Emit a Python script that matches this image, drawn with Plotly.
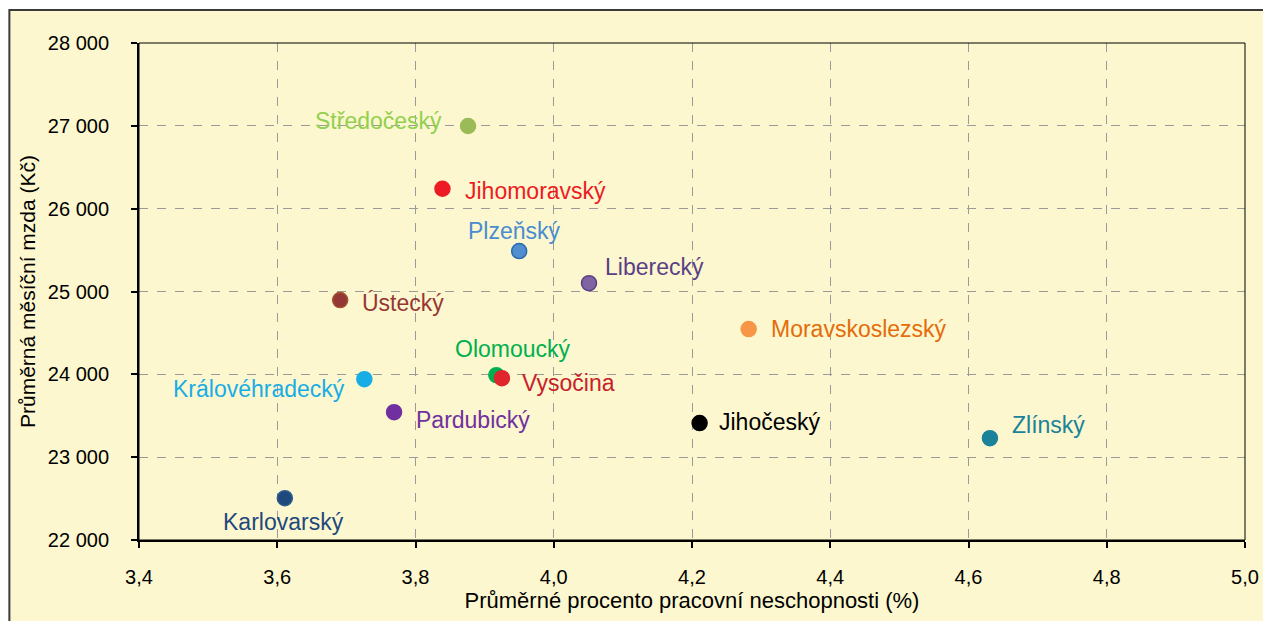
import plotly.graph_objects as go

regions = ["Středočeský", "Jihomoravský", "Plzeňský", "Liberecký", "Ústecký",
           "Moravskoslezský", "Olomoucký", "Vysočina", "Královéhradecký",
           "Pardubický", "Jihočeský", "Zlínský", "Karlovarský"]
sick_pct = [3.876, 3.839, 3.950, 4.051, 3.691, 4.282, 3.917, 3.925, 3.726,
            3.769, 4.211, 4.631, 3.611]
wage = [26998, 26240, 25488, 25101, 24896, 24546, 23990, 23954, 23942,
        23543, 23411, 23229, 22505]

x_ticks = [3.4, 3.6, 3.8, 4.0, 4.2, 4.4, 4.6, 4.8, 5.0]
x_tick_labels = ["3,4", "3,6", "3,8", "4,0", "4,2", "4,4", "4,6", "4,8", "5,0"]
y_ticks = [22000, 23000, 24000, 25000, 26000, 27000, 28000]
y_tick_labels = ["22 000", "23 000", "24 000", "25 000", "26 000", "27 000", "28 000"]

# styles: marker colour, marker line colour, text colour, label anchor & pixel offset
styles = {
    "Středočeský":     ("#9BBB59", "#9BBB59", "#92D050", "right", -24, 5),
    "Jihomoravský":    ("#ED1C24", "#ED1C24", "#ED1C24", "left", 21, -2),
    "Plzeňský":        ("#4F8FD0", "#2A6AB0", "#4A8CD0", "center", -5, 20),
    "Liberecký":       ("#8064A2", "#5B3F86", "#5B3F86", "left", 14, 16),
    "Ústecký":         ("#953735", "#A0522D", "#953735", "left", 20, -3),
    "Moravskoslezský": ("#F79646", "#F79646", "#E46C0A", "left", 20, 0),
    "Olomoucký":       ("#00B050", "#00B050", "#00B050", "center", 17, 26),
    "Vysočina":        ("#E0262C", "#E0262C", "#C8202A", "left", 18, -5),
    "Královéhradecký": ("#19ADE6", "#19ADE6", "#19ADE6", "right", -17, -10),
    "Pardubický":      ("#7030A0", "#7030A0", "#7030A0", "left", 20, -8),
    "Jihočeský":       ("#000000", "#000000", "#000000", "left", 17, 1),
    "Zlínský":         ("#1A8299", "#1A8299", "#1A8299", "left", 20, 13),
    "Karlovarský":     ("#1F497D", "#2C5C90", "#1F497D", "center", -1, -24),
}

FONT = "Liberation Sans, Arial, sans-serif"

fig = go.Figure()
for name, xv, yv in zip(regions, sick_pct, wage):
    mc, lc, tc, anchor, dx, dy = styles[name]
    fig.add_trace(go.Scatter(
        x=[xv], y=[yv], mode="markers", name=name, showlegend=False,
        marker=dict(size=15, color=mc, line=dict(color=lc, width=1.5)),
        cliponaxis=False, hoverinfo="x+y+name"))
    fig.add_annotation(x=xv, y=yv, xref="x", yref="y", text=name,
                       showarrow=False, xanchor=anchor, yanchor="middle",
                       xshift=dx, yshift=dy,
                       font=dict(family=FONT, size=23, color=tc))

# outer chart area (yellow with border), plot frame
fig.add_shape(type="rect", xref="paper", yref="paper",
              x0=-0.1172, x1=1.1, y0=-0.3, y1=1.0664,
              fillcolor="#FCF7CE", line=dict(color="#3A3A3A", width=2),
              layer="below")
fig.add_shape(type="rect", xref="paper", yref="paper",
              x0=0, x1=1, y0=0, y1=1,
              line=dict(color="#000000", width=1), layer="above")

axis_common = dict(
    showgrid=True, gridcolor="#9A9A9A", griddash="dash", gridwidth=1,
    showline=True, linecolor="#000000", linewidth=2,
    ticks="outside", ticklen=6, tickwidth=1.5, tickcolor="#000000",
    zeroline=False,
    tickfont=dict(family=FONT, size=20, color="#000000"),
)

fig.update_xaxes(range=[3.4, 5.0], tickvals=x_ticks, ticktext=x_tick_labels,
                 ticklabelstandoff=12,
                 title=dict(text="Průměrné procento pracovní neschopnosti (%)",
                            font=dict(family=FONT, size=22, color="#000000"),
                            standoff=2),
                 **axis_common)
fig.update_yaxes(range=[22000, 28000], tickvals=y_ticks, ticktext=y_tick_labels,
                 ticklabelstandoff=18,
                 title=dict(text="Průměrná měsíční mzda (Kč)",
                            font=dict(family=FONT, size=21, color="#000000"),
                            standoff=6),
                 **axis_common)

fig.update_layout(
    width=1263, height=613,
    margin=dict(l=131, r=23, t=35, b=81),
    paper_bgcolor="#FFFFFF", plot_bgcolor="#FFFFFF",
    font=dict(family=FONT),
)

fig.write_html("out.html")
